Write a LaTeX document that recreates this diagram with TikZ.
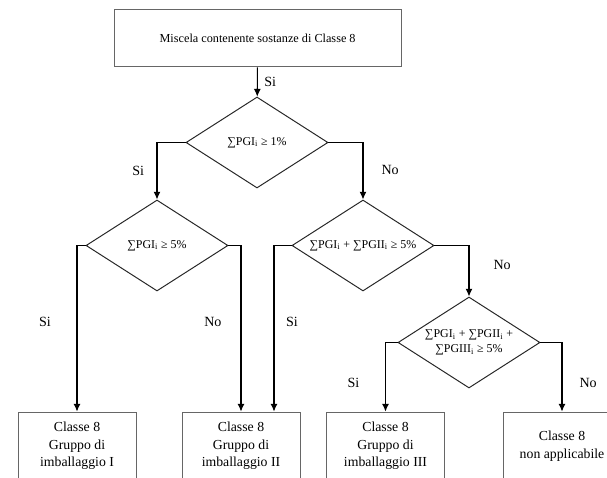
\documentclass[tikz,border=0pt]{standalone}
\usepackage{fontspec}
\setmainfont{Liberation Serif}
\usetikzlibrary{shapes.geometric,arrows.meta}

\begin{document}
\begin{tikzpicture}[scale=1, transform shape,
    box/.style={draw=black!60, line width=0.6pt, rectangle, minimum width=2.95cm, minimum height=1.7cm, align=center, inner sep=0pt, font=\fontsize{9.8}{12.4}\selectfont},
    test/.style={draw=black!85, line width=0.7pt, diamond, aspect=1.56, minimum width=3.55cm, minimum height=2.275cm, inner sep=0pt, align=center, font=\fontsize{8.5}{10.5}\selectfont},
    flow/.style={draw, line width=0.8pt, -{Latex[length=5.5pt,width=5pt]}},
    answer/.style={inner sep=0pt, font=\fontsize{10}{12}\selectfont}]
    % Define the page area
    \useasboundingbox (0,0) rectangle (15.175,-11.95);

    % Place the start box and the tests
    \node[box, minimum width=7.175cm, minimum height=1.425cm, font=\fontsize{8.7}{10.5}\selectfont] (start) at (6.44,-0.96) {Miscela contenente sostanze di Classe 8};
    \node[test] (t1) at (6.425,-3.5625) {∑PGI\textsubscript{i} ≥ 1\%};
    \node[test] (t2) at (3.925,-6.1375) {∑PGI\textsubscript{i} ≥ 5\%};
    \node[test] (t3) at (9.075,-6.1375) {∑PGI\textsubscript{i} + ∑PGII\textsubscript{i} ≥ 5\%};
    \node[test] (t4) at (11.725,-8.5625) {∑PGI\textsubscript{i} + ∑PGII\textsubscript{i} +\\∑PGIII\textsubscript{i} ≥ 5\%};

    % Place the result boxes
    \node[box] (b1) at (1.925,-11.15) {Classe 8\\Gruppo di\\imballaggio I};
    \node[box] (b2) at (6.025,-11.15) {Classe 8\\Gruppo di\\imballaggio II};
    \node[box] (b3) at (9.6375,-11.15) {Classe 8\\Gruppo di\\imballaggio III};
    \node[box] (b4) at (14.05,-11.15) {Classe 8\\non applicabile};

    % Draw the arrows with their answers
    \draw[flow] (start) -- (t1) node[answer, midway, right=1.6mm] (si0) {Si};
    \draw[flow] (t1.west) -| (t2.north) node[answer, pos=.745, left=3.1mm] (si1) {Si};
    \draw[flow] (t1.east) -| (t3.north) node[answer, pos=.74, right=4.5mm] (no1) {No};
    \draw[flow] (t2.west) -| (b1.north) node[answer, pos=.73, left=6.4mm] (si2) {Si};
    \draw[flow] (t2.east) -| (b2.north) node[answer, pos=.73, left=4.75mm] (no2) {No};
    \draw[flow] (t3.west) -| ([xshift=0.825cm]b2.north) node[answer, pos=.73, right=2.9mm] (si3) {Si};
    \draw[flow] (t3.east) -| (t4.north) node[answer, pos=.69, right=6mm] (no3) {No};
    \draw[flow] (t4.west) -| (b3.north) node[answer, pos=.79, left=6.4mm] (si4) {Si};
    \draw[flow] (t4.east) -| (b4.north) node[answer, pos=.79, right=4.25mm] (no4) {No};

\end{tikzpicture}
\end{document}
